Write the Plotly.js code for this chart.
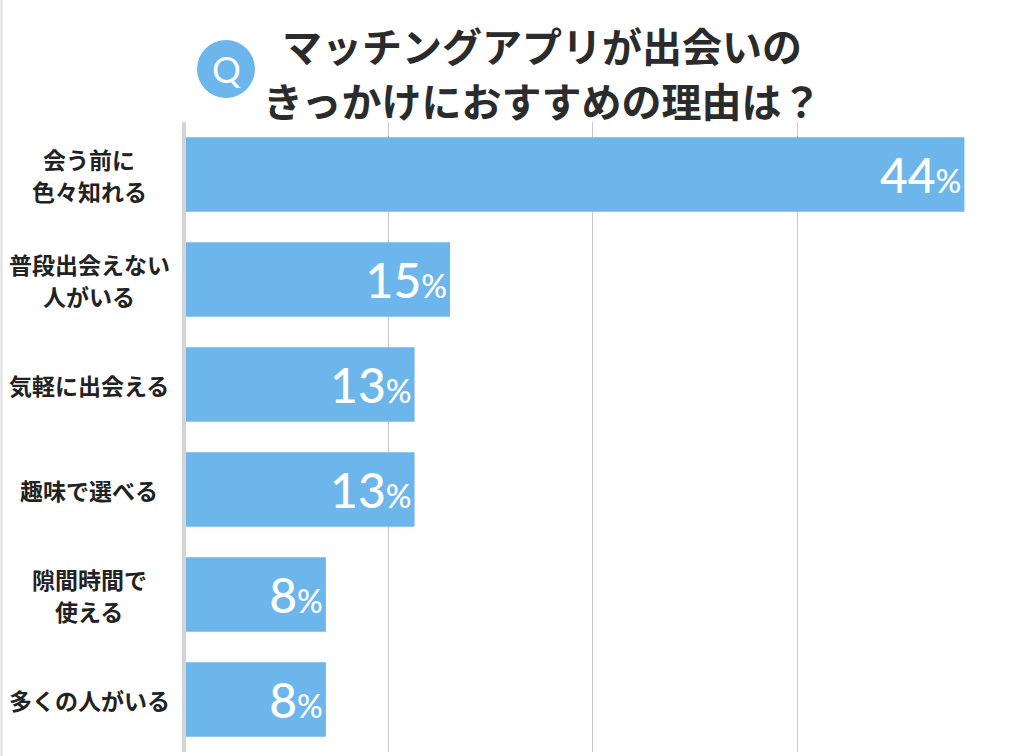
<!DOCTYPE html>
<html>
<head>
<meta charset="utf-8">
<script src="https://cdn.plot.ly/plotly-3.0.1.min.js"></script>
<style>
html,body{margin:0;padding:0;background:#fff;}
#chart{width:1024px;height:756px;}
</style>
</head>
<body>
<div id="chart"></div>
<script>
const categories = [
  "会う前に<br>色々知れる",
  "普段出会えない<br>人がいる",
  "気軽に出会える",
  "趣味で選べる",
  "隙間時間で<br>使える",
  "多くの人がいる"
];
const values = [44, 15, 13, 13, 8, 8];
const titleLines = ["マッチングアプリが出会いの", "きっかけにおすすめの理由は？"];

const W = 1024, H = 756;
const L = 184, R = 22, T = 122, B = 4;
const pw = W - L - R, ph = H - T - B;
const px = x => (x - L) / pw;
const py = y => (H - B - y) / ph;

const jp = '"Noto Sans CJK JP", "Noto Sans", sans-serif';
const barColor = '#6cb6eb';

const trace = {
  type: 'bar',
  orientation: 'h',
  y: categories,
  x: values,
  marker: {color: barColor, line: {width: 0}},
  text: values.map(v => String(v)),
  texttemplate: '%{text}<span style="font-size:32px">%</span>',
  textposition: 'inside',
  insidetextanchor: 'end',
  constraintext: 'none',
  textfont: {family: 'Lato, "Open Sans", sans-serif', size: 48, color: '#ffffff', weight: 500},
  hoverinfo: 'skip'
};

const annotations = [];
categories.forEach(c => {
  const lines = c.split('<br>');
  const n = lines.length;
  lines.forEach((ln, i) => {
    annotations.push({
      xref: 'paper', yref: 'y',
      x: px(89), y: c,
      xanchor: 'center', yanchor: 'middle',
      yshift: ((n - 1) / 2 - i) * 32,
      text: ln, align: 'center',
      showarrow: false,
      font: {family: jp, size: 23, color: '#222222', weight: 700}
    });
  });
});

annotations.push({
  xref: 'paper', yref: 'paper',
  x: px(226), y: py(69),
  xanchor: 'center', yanchor: 'middle',
  text: 'Q', showarrow: false,
  font: {family: 'Lato, "Open Sans", sans-serif', size: 36, color: '#ffffff'}
});

const titleY = [45, 100];
titleLines.forEach((t, i) => {
  annotations.push({
    xref: 'paper', yref: 'paper',
    x: px(542), y: py(titleY[i]),
    xanchor: 'center', yanchor: 'middle',
    text: t, showarrow: false,
    font: {family: jp, size: 40, color: '#2b2b2b', weight: 700}
  });
});

const shapes = [
  {type: 'circle', xref: 'paper', yref: 'paper',
   x0: px(197), x1: px(255), y0: py(98), y1: py(40),
   fillcolor: barColor, line: {width: 0}},
  {type: 'line', xref: 'paper', yref: 'paper',
   x0: px(1.5), x1: px(1.5), y0: py(0), y1: py(756),
   line: {color: '#dddddd', width: 2}},
  {type: 'line', xref: 'paper', yref: 'paper',
   x0: 0, x1: 0, y0: 0, y1: 1,
   line: {color: '#d4d4d4', width: 4}, layer: 'above'}
];

const layout = {
  width: W, height: H,
  margin: {l: L, r: R, t: T, b: B, pad: 0},
  paper_bgcolor: '#ffffff',
  plot_bgcolor: '#ffffff',
  showlegend: false,
  bargap: 0.29,
  xaxis: {
    range: [0, 46.12],
    tick0: 0, dtick: 11.525,
    showgrid: true, gridcolor: '#c8c8c8', gridwidth: 1,
    zeroline: false, showticklabels: false, ticks: '',
    showline: false, fixedrange: true
  },
  yaxis: {
    autorange: 'reversed',
    showticklabels: false, ticks: '',
    showgrid: false, zeroline: false, showline: false, fixedrange: true
  },
  annotations: annotations,
  shapes: shapes
};

Plotly.newPlot('chart', [trace], layout, {displayModeBar: false, staticPlot: true});
</script>
</body>
</html>
